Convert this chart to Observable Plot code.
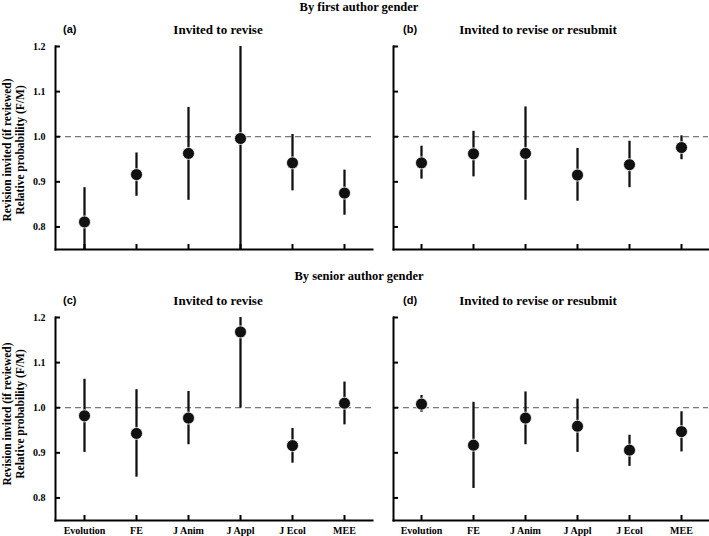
<!DOCTYPE html>
<html>
<head>
<meta charset="utf-8">
<script src="https://cdn.jsdelivr.net/npm/d3@7"></script>
<script src="https://cdn.jsdelivr.net/npm/@observablehq/plot@0.6"></script>
<style>
  html, body { margin: 0; padding: 0; background: #fff; overflow: hidden; }
  #root { position: relative; width: 709px; height: 536px; }
  .panel { position: absolute; }
  .t { position: absolute; white-space: nowrap; color: #000; font-weight: bold; line-height: 1; z-index: 5; }
  .serif { font-family: "Liberation Serif", "Times New Roman", serif; }
  .sans { font-family: "Liberation Sans", Arial, sans-serif; }
  .ylab { position: absolute; transform: translate(-50%, -50%) rotate(-90deg); text-align: center;
          font-family: "Liberation Serif", serif; font-weight: bold; font-size: 11.5px; line-height: 13px; white-space: nowrap; z-index: 5; }
</style>
</head>
<body>
<div id="root"></div>
<script>
const journals = ["Evolution", "FE", "J Anim", "J Appl", "J Ecol", "MEE"];
const yTicks = [0.8, 0.9, 1.0, 1.1, 1.2];
const yDomain = [0.75, 1.2];

// (a) first author, invited to revise
const aEst = [0.811, 0.916, 0.963, 0.996, 0.942, 0.875];
const aLo  = [0.75, 0.868, 0.859, 0.75, 0.880, 0.826];
const aHi  = [0.887, 0.964, 1.065, 1.2, 1.005, 0.926];
// (b) first author, invited to revise or resubmit
const bEst = [0.942, 0.962, 0.963, 0.915, 0.938, 0.976];
const bLo  = [0.906, 0.911, 0.859, 0.857, 0.887, 0.949];
const bHi  = [0.979, 1.012, 1.066, 0.974, 0.990, 1.002];
// (c) senior author, invited to revise
const cEst = [0.982, 0.943, 0.977, 1.168, 0.916, 1.010];
const cLo  = [0.901, 0.846, 0.918, 0.999, 0.877, 0.962];
const cHi  = [1.063, 1.040, 1.036, 1.2, 0.954, 1.057];
// (d) senior author, invited to revise or resubmit
const dEst = [1.008, 0.917, 0.977, 0.959, 0.906, 0.947];
const dLo  = [0.990, 0.821, 0.918, 0.901, 0.870, 0.902];
const dHi  = [1.027, 1.012, 1.035, 1.019, 0.939, 0.991];

const root = document.getElementById("root");

function rowsOf(est, lo, hi) {
  return journals.map((j, i) => ({journal: j, est: est[i], lo: lo[i], hi: hi[i]}));
}

const innerH = 203;
const tickLen = 5;

function panel(est, lo, hi, {left, top, width, showY, showX}) {
  const rows = rowsOf(est, lo, hi);
  const marginBottom = showX ? 20 : 8;
  const mL = 55, mR = 1;
  const innerW = width - mL - mR;
  const chart = Plot.plot({
    width, height: 46 + innerH + marginBottom,
    marginLeft: mL, marginRight: mR, marginTop: 46, marginBottom,
    x: {type: "point", domain: journals, padding: 0.5, label: null},
    y: {domain: yDomain, label: null},
    style: {background: "transparent", fontFamily: "'Liberation Serif', 'Times New Roman', serif",
            fontWeight: "bold", fontSize: "10px", color: "#000", overflow: "visible"},
    marks: [
      Plot.ruleY([1], {stroke: "#555", strokeDasharray: "6,4", strokeWidth: 1}),
      Plot.ruleX(rows, {x: "journal", y1: "lo", y2: "hi", stroke: "#111", strokeWidth: 2.3, clip: true}),
      Plot.dot(rows, {x: "journal", y: "est", r: 6, fill: "#111", stroke: "#fff", strokeWidth: 0.8}),
      // inward tick marks
      Plot.tickY(yTicks, {y: d => d, insetRight: innerW - tickLen, stroke: "#000", strokeWidth: 2}),
      Plot.tickX(journals, {x: d => d, insetTop: innerH - tickLen, stroke: "#000", strokeWidth: 2}),
      // tick labels
      Plot.axisY({ticks: yTicks, tickSize: 0, tickPadding: 10,
                  tickFormat: showY ? d3.format(".1f") : () => "", label: null}),
      Plot.axisX({tickSize: 0, tickPadding: 6,
                  tickFormat: showX ? (d => d) : () => "", label: null}),
      Plot.frame({anchor: "left", strokeWidth: 2, stroke: "#000"}),
      Plot.frame({anchor: "bottom", strokeWidth: 2, stroke: "#000"})
    ]
  });
  chart.classList.add("panel");
  chart.style.left = left + "px";
  chart.style.top = top + "px";
  root.appendChild(chart);
}

panel(aEst, aLo, aHi, {left: 0, top: 0, width: 373, showY: true, showX: false});
panel(bEst, bLo, bHi, {left: 338, top: 0, width: 371, showY: false, showX: false});
panel(cEst, cLo, cHi, {left: 0, top: 271, width: 373, showY: true, showX: true});
panel(dEst, dLo, dHi, {left: 338, top: 271, width: 371, showY: false, showX: true});

function label(text, cls, x, y, size, center) {
  const el = document.createElement("div");
  el.className = "t " + cls;
  el.textContent = text;
  el.style.fontSize = size + "px";
  el.style.top = y + "px";
  el.style.left = x + "px";
  if (center) el.style.transform = "translateX(-50%)";
  root.appendChild(el);
}

label("By first author gender", "serif", 359, 1, 12.5, true);
label("(a)", "sans", 63, 24, 11, false);
label("Invited to revise", "serif", 218, 23, 13, true);
label("(b)", "sans", 403, 24, 11, false);
label("Invited to revise or resubmit", "serif", 538, 23, 13, true);

label("By senior author gender", "serif", 359, 270, 12.5, true);
label("(c)", "sans", 63, 295, 11, false);
label("Invited to revise", "serif", 218, 294, 13, true);
label("(d)", "sans", 403, 295, 11, false);
label("Invited to revise or resubmit", "serif", 538, 294, 13, true);

function ylab(x, y) {
  const el = document.createElement("div");
  el.className = "ylab";
  el.innerHTML = "Revision invited (if reviewed)<br>Relative probability (F/M)";
  el.style.left = x + "px";
  el.style.top = y + "px";
  root.appendChild(el);
}
ylab(13.5, 150);
ylab(13.5, 414);
</script>
</body>
</html>
